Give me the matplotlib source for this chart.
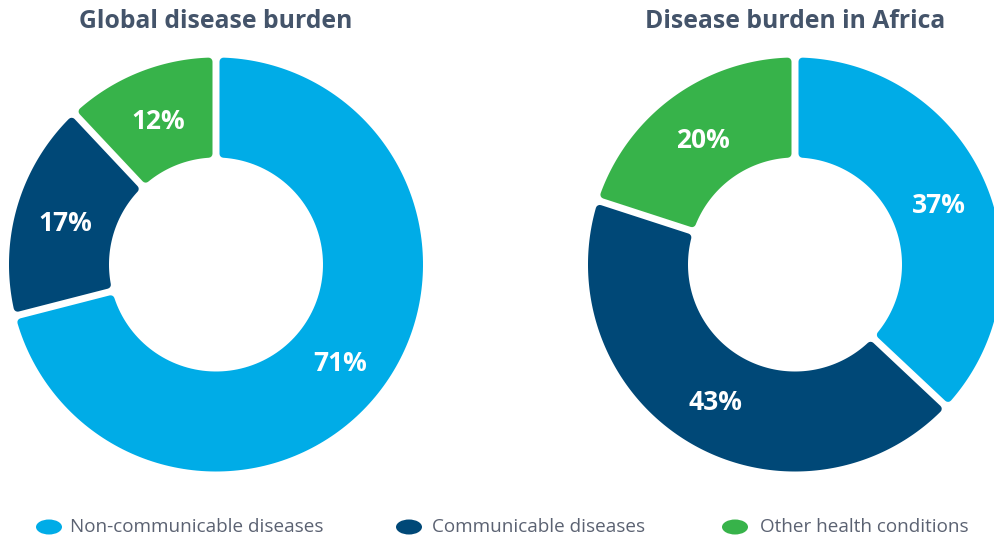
import matplotlib
matplotlib.use("Agg")
import matplotlib.pyplot as plt
from matplotlib.patches import Ellipse, Polygon
import numpy as np

plt.rcParams['font.family'] = ['Open Sans', 'DejaVu Sans']

categories = ["Non-communicable diseases", "Communicable diseases", "Other health conditions"]
colors = ["#00ACE7", "#004877", "#37B34A"]
titles = ["Global disease burden", "Disease burden in Africa"]
global_values = [71, 17, 12]
africa_values = [37, 43, 20]

W, H = 995, 540
fig = plt.figure(figsize=(W / 100, H / 100), dpi=100)

R_vis = 207.0          # visible outer radius (px)
r_vis = 107.0          # visible inner radius (px)
gap = 7.0              # white gap width (px)
rc = 4.0               # corner rounding radius (px)


def rounded_segment(theta1, theta2):
    d = gap / 2 + rc
    Ro = R_vis - rc
    Ri = r_vis + rc
    a_o1 = np.deg2rad(theta1) + np.arcsin(d / Ro)
    a_o2 = np.deg2rad(theta2) - np.arcsin(d / Ro)
    a_i1 = np.deg2rad(theta1) + np.arcsin(d / Ri)
    a_i2 = np.deg2rad(theta2) - np.arcsin(d / Ri)
    to = np.linspace(a_o1, a_o2, 200)
    ti = np.linspace(a_i2, a_i1, 120)
    xs = np.concatenate([Ro * np.cos(to), Ri * np.cos(ti)])
    ys = np.concatenate([Ro * np.sin(to), Ri * np.sin(ti)])
    return np.column_stack([xs, ys])


def donut(cx, cy, values, title):
    half = R_vis + 4
    ax = fig.add_axes([(cx - half) / W, (H - cy - half) / H, 2 * half / W, 2 * half / H])
    wedges, _ = ax.pie(values, colors=colors, startangle=90, counterclock=False,
                       radius=R_vis,
                       wedgeprops=dict(width=R_vis - r_vis, edgecolor='white', linewidth=0))
    ax.set_xlim(-half, half)
    ax.set_ylim(-half, half)
    ax.set_aspect('equal')
    ax.axis('off')
    mid = (R_vis + r_vis) / 2
    for w, v, c in zip(wedges, values, colors):
        w.set_visible(False)
        poly = Polygon(rounded_segment(w.theta1, w.theta2), closed=True, facecolor=c,
                       edgecolor=c, linewidth=2 * rc * 72 / 100, joinstyle='round')
        ax.add_patch(poly)
        ang = np.deg2rad((w.theta1 + w.theta2) / 2)
        ax.text(mid * np.cos(ang), mid * np.sin(ang) - 3, f"{v}%", ha='center', va='center',
                color='white', fontsize=19, fontweight='bold')
    fig.text(cx / W, 1 - 22 / H, title, ha='center', va='center', fontsize=17.8,
             fontweight='bold', color='#44546A')


donut(216, 264.5, global_values, titles[0])
donut(795, 264.5, africa_values, titles[1])

# legend
marker_x = [49, 409, 735]
text_x = [70, 432, 760]
ly = 527
for mx, tx, c, lab in zip(marker_x, text_x, colors, categories):
    e = Ellipse((mx / W, 1 - ly / H), 26 / W, 15 / H, transform=fig.transFigure,
                facecolor=c, edgecolor='none')
    fig.patches.append(e)
    fig.text(tx / W, 1 - ly / H, lab, ha='left', va='center', fontsize=13.6,
             color='#5B6272')

fig.savefig("out.png", dpi=100)
